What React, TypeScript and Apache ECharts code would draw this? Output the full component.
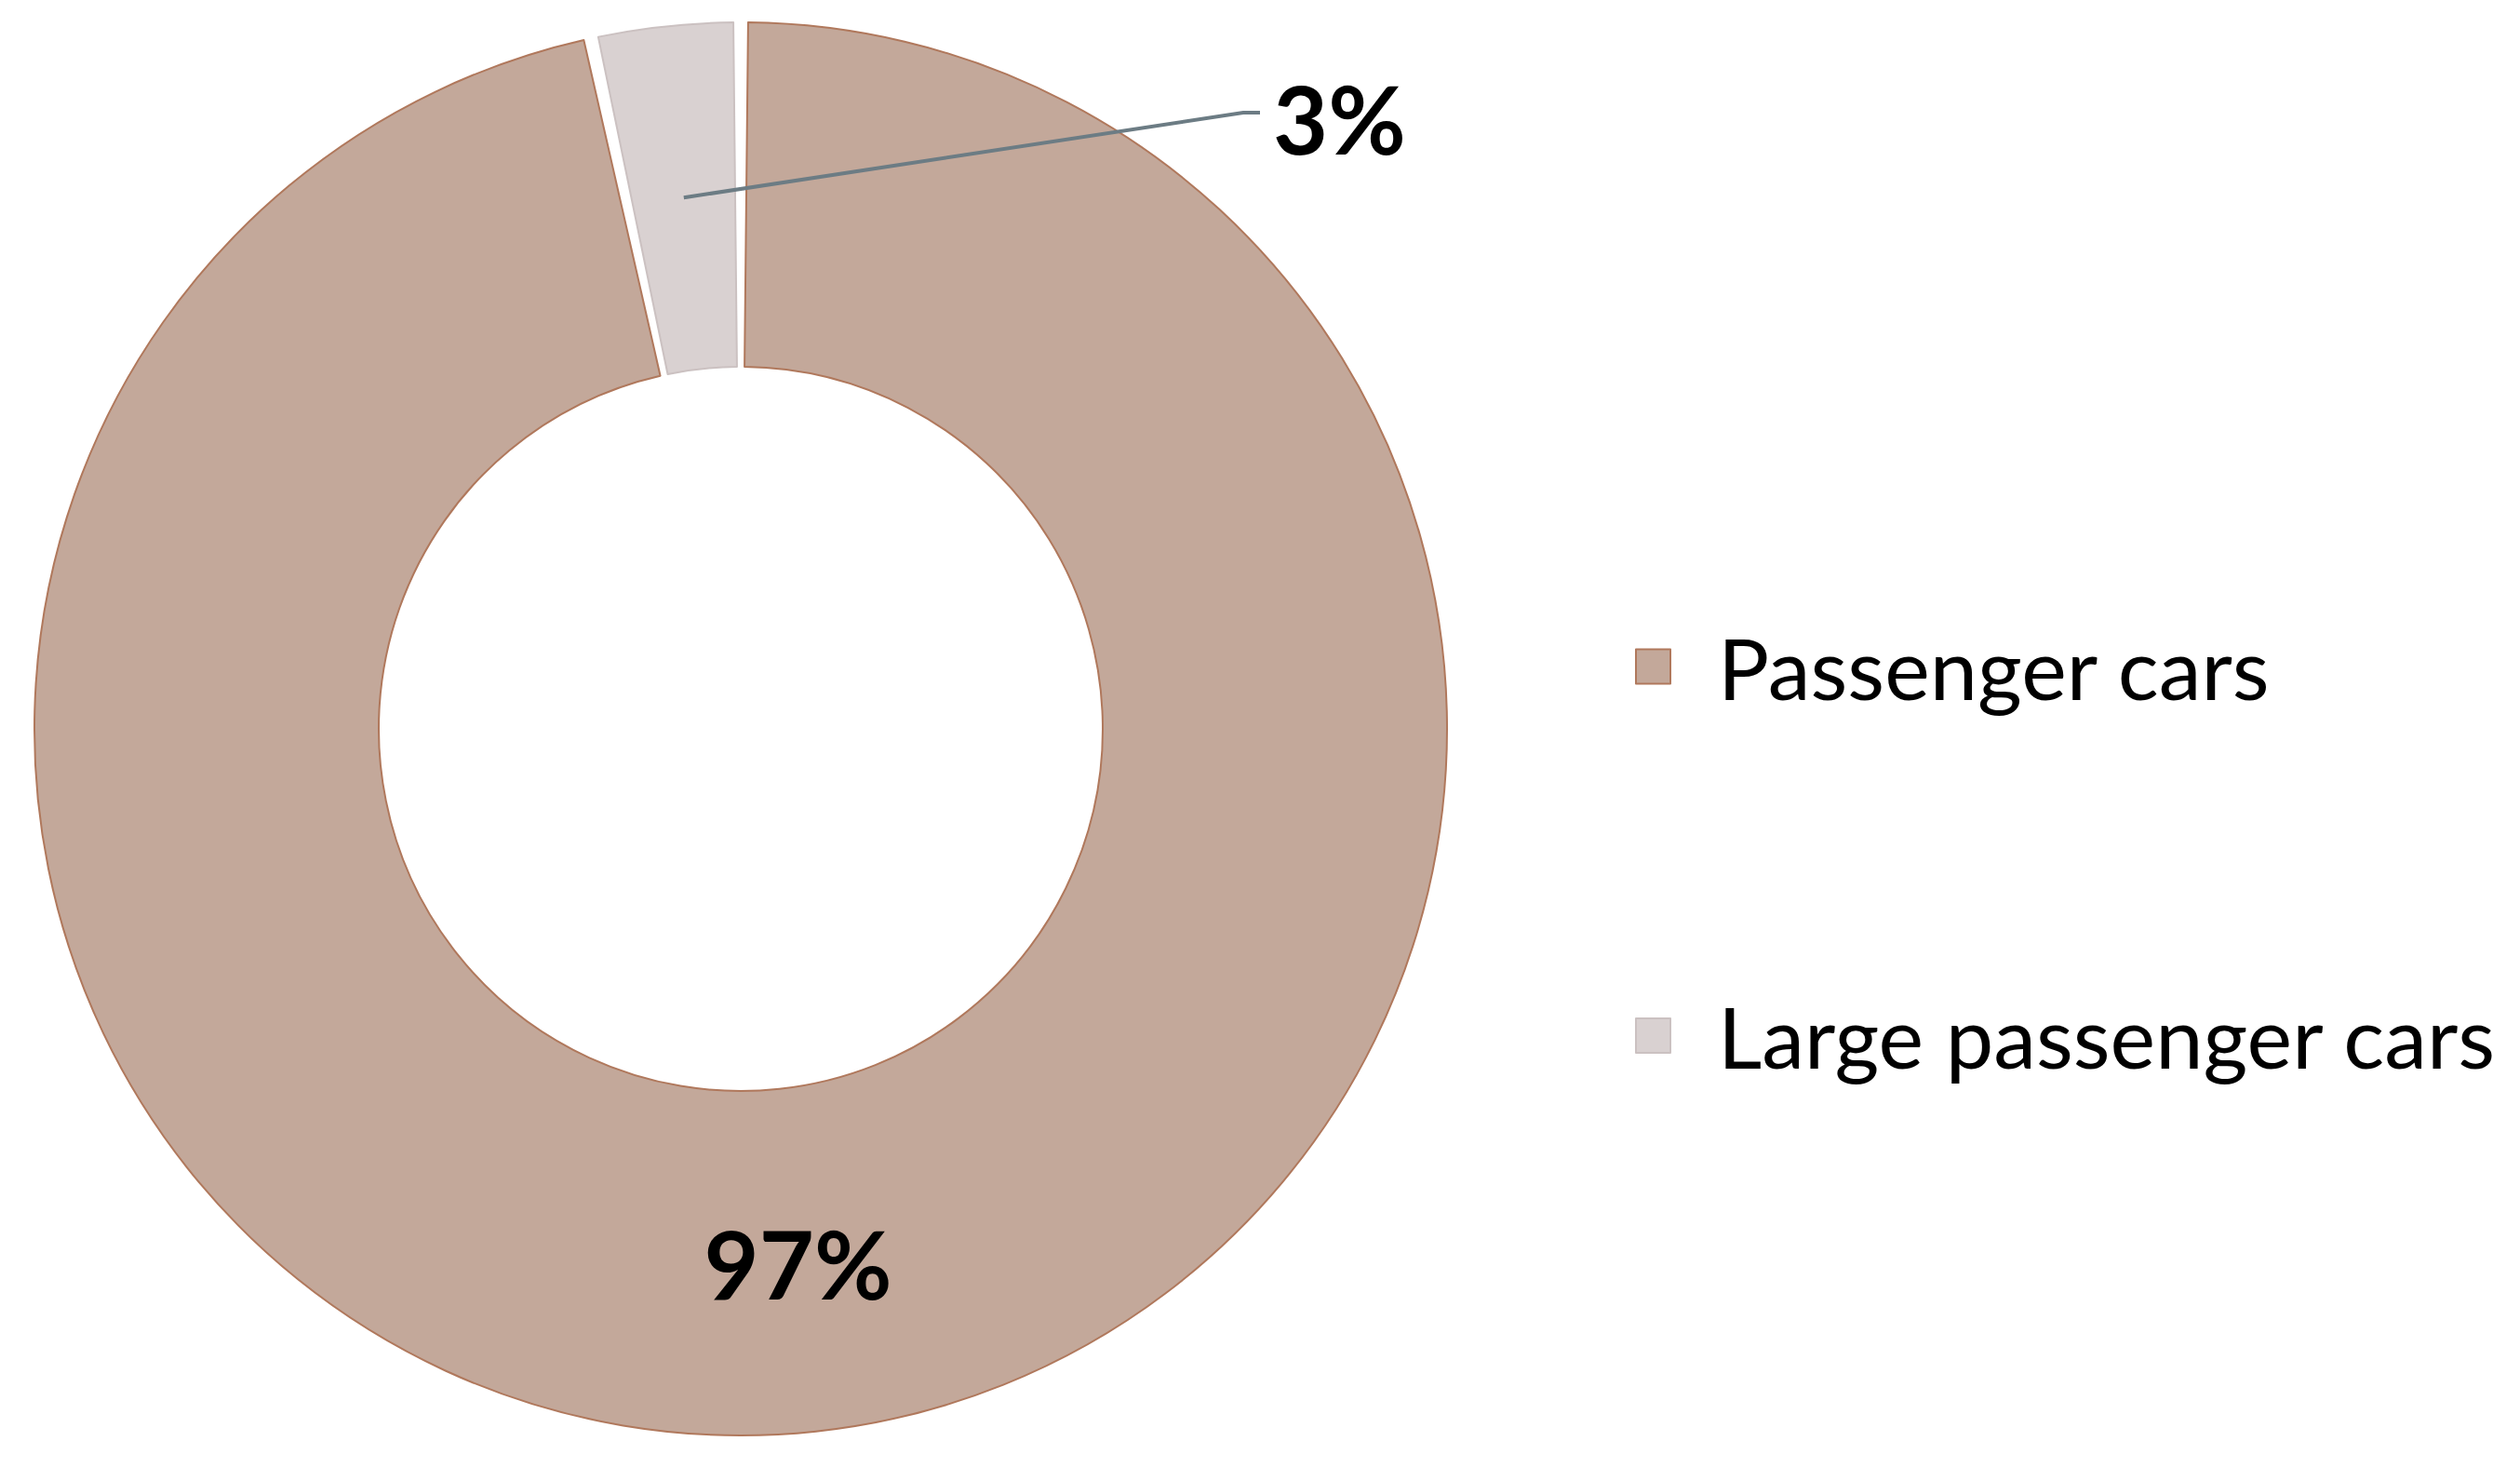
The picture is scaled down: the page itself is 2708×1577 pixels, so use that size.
import React, { useEffect, useRef } from "react";
import * as echarts from "echarts";

const categories = ["Passenger cars", "Large passenger cars"];
const shares = [96.6, 3.4];
const fillColors = ["#C3A89A", "#D9D1D1"];
const borderColors = ["#B0785C", "#CBC1C1"];

const CX = 796;
const CY = 783;
const R0 = 389;
const R1 = 759;

export default function App() {
  const ref = useRef<HTMLDivElement>(null);
  useEffect(() => {
    if (!ref.current) return;
    const chart = echarts.init(ref.current, undefined, { renderer: "svg" });
    const total = shares.reduce((a, b) => a + b, 0);
    const labelFont = {
      fontFamily: "Lato",
      fontWeight: "bold",
      fontSize: 102,
      color: "#000",
      formatter: (p: any) => Math.round(p.percent) + "%",
    };
    const baseData = categories.map((name, i) => ({
      name,
      value: shares[i],
      itemStyle: { color: fillColors[i], borderColor: borderColors[i], borderWidth: 2 },
      label: i === 0 ? { show: true, position: "inside" } : { show: false },
      labelLine: { show: false },
    }));
    const overlayData = categories.map((name, i) => ({
      name,
      value: shares[i],
      itemStyle: { color: "rgba(0,0,0,0)", borderWidth: 0 },
      label: i === 1 ? { show: true, position: "outside" } : { show: false },
      labelLine:
        i === 1
          ? { show: true, lineStyle: { color: "#6C7C84", width: 4 } }
          : { show: false },
    }));
    const common = {
      type: "pie",
      center: [CX, CY],
      radius: [R0, R1],
      startAngle: 90,
      clockwise: true,
      padAngle: 1.2,
      avoidLabelOverlap: false,
      silent: true,
      emphasis: { disabled: true },
    };
    chart.setOption({
      animation: false,
      backgroundColor: "#ffffff",
      legend: {
        orient: "vertical",
        left: 1752,
        top: 663,
        itemWidth: 37,
        itemHeight: 37,
        itemGap: 263,
        icon: "rect",
        selectedMode: false,
        textStyle: {
          fontFamily: "Lato",
          fontSize: 92,
          color: "#000",
          lineHeight: 96,
          padding: [0, 0, 0, 46],
        },
        data: [
          { name: categories[0] },
          { name: categories[1], textStyle: { padding: [0, 0, 75, 46] } },
        ],
      },
      series: [
        {
          ...common,
          name: "base",
          z: 2,
          label: labelFont,
          data: baseData,
        },
        {
          ...common,
          name: "overlay",
          z: 6,
          label: labelFont,
          labelLayout: (params: any) => {
            if (params.dataIndex !== 1) return {};
            let before = 0;
            for (let k = 0; k < 1; k++) before += shares[k];
            const midFrac = (before + shares[1] / 2) / total;
            const theta = midFrac * Math.PI * 2;
            const rm = (R0 + R1) / 2;
            const sx = CX + rm * Math.sin(theta);
            const sy = CY - rm * Math.cos(theta);
            return {
              x: 1368,
              y: 126,
              align: "left",
              verticalAlign: "middle",
              labelLinePoints: [
                [sx, sy],
                [1336, 121],
                [1354, 121],
              ],
            };
          },
          data: overlayData,
        },
      ],
    });
    return () => chart.dispose();
  }, []);
  return (
    <div
      ref={ref}
      style={{ position: "fixed", left: 0, top: 0, width: 2708, height: 1577 }}
    />
  );
}
